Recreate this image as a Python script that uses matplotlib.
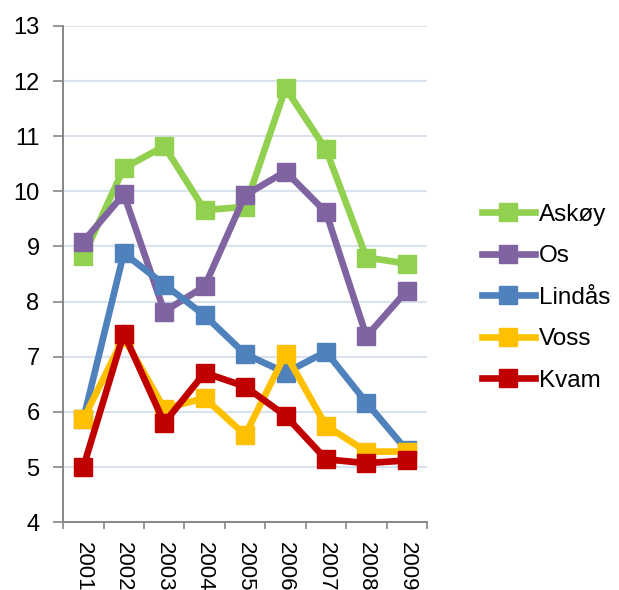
import matplotlib
matplotlib.use("Agg")
import matplotlib.pyplot as plt
from matplotlib.ticker import FixedLocator, NullFormatter

plt.rcParams['font.family'] = ['Liberation Sans', 'DejaVu Sans']

years = ["2001", "2002", "2003", "2004", "2005", "2006", "2007", "2008", "2009"]
askoy = [8.82, 10.42, 10.82, 9.66, 9.72, 11.87, 10.76, 8.80, 8.69]
os_ = [9.09, 9.95, 7.82, 8.28, 9.93, 10.36, 9.62, 7.37, 8.20]
lindas = [5.87, 8.88, 8.31, 7.75, 7.05, 6.71, 7.09, 6.17, 5.30]
voss = [5.87, 7.35, 6.06, 6.25, 5.58, 7.05, 5.75, 5.28, 5.28]
kvam = [5.00, 7.42, 5.80, 6.71, 6.46, 5.93, 5.14, 5.07, 5.12]

series = [("Askøy", askoy, "#92D050"), ("Os", os_, "#8064A2"),
          ("Lindås", lindas, "#4F81BD"), ("Voss", voss, "#FFC000"),
          ("Kvam", kvam, "#C00000")]

fig = plt.figure(figsize=(6.19, 5.90), dpi=100)
ax = fig.add_axes([0.102, 0.115, 0.588, 0.841])

x = list(range(len(years)))
for name, vals, col in series:
    ax.plot(x, vals, color=col, lw=4.8, marker='s', markersize=13,
            markeredgecolor=col, markeredgewidth=1, label=name,
            solid_joinstyle='miter')

ax.set_xlim(-0.5, len(years) - 0.5)
ax.set_ylim(4, 13)
ax.set_yticks(range(4, 14))
ax.yaxis.grid(True, color='#D9E2EF', lw=1.5)
ax.set_axisbelow(True)

ax.xaxis.set_major_locator(FixedLocator([i - 0.5 for i in range(len(years) + 1)]))
ax.xaxis.set_major_formatter(NullFormatter())
ax.xaxis.set_minor_locator(FixedLocator(x))
ax.set_xticklabels(years, minor=True, rotation=-90, fontsize=16)
ax.tick_params(axis='x', which='minor', length=0, pad=14)
ax.tick_params(axis='x', which='major', length=5, color='#868686', width=1.2)
ax.tick_params(axis='y', length=7, color='#868686', width=1.2, labelsize=17, pad=10)

for s in ['top', 'right']:
    ax.spines[s].set_visible(False)
for s in ['left', 'bottom']:
    ax.spines[s].set_color('#868686')
    ax.spines[s].set_linewidth(1.4)

ax.legend(loc='center left', bbox_to_anchor=(1.15, 0.452), frameon=False,
          fontsize=17.5, handlelength=2.2, handletextpad=0.15, labelspacing=0.8,
          borderaxespad=0, borderpad=0)

fig.savefig("out.png", dpi=100)
